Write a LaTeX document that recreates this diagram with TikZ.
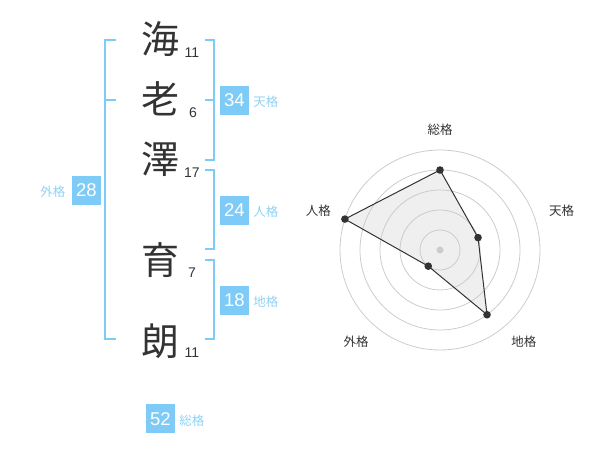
\documentclass[tikz,border=0pt]{standalone}
\usepackage{fontspec}
\setmainfont{Liberation Sans}
\newfontfamily\jpfont{Noto Sans CJK JP}
\usetikzlibrary{positioning}
\definecolor{kakublue}{HTML}{7FCBF7}
\definecolor{kakutext}{HTML}{8ED2F5}
\definecolor{inkgray}{HTML}{333333}
\definecolor{ringgray}{HTML}{CCCCCC}
\definecolor{areagray}{HTML}{EFEFEF}

\begin{document}
\begin{tikzpicture}[x=1pt,y=1pt,
  kanji/.style={font=\jpfont\fontsize{38}{38}\selectfont, text=inkgray, inner sep=0pt, text height=31pt, text depth=3pt},
  strokes/.style={font=\fontsize{14}{14}\selectfont, text=inkgray, inner sep=0pt},
  kakubox/.style={fill=kakublue, text=white, minimum size=29pt, inner sep=0pt, font=\fontsize{18.5}{18.5}\selectfont},
  kakuname/.style={font=\jpfont\fontsize{12.5}{12.5}\selectfont, text=kakutext, inner sep=0pt},
  bracket/.style={draw=kakublue, line width=2pt},
  axisname/.style={font=\jpfont\fontsize{12.5}{12.5}\selectfont, text=inkgray, inner sep=0pt},
]
\useasboundingbox (0,0) rectangle (600,470);

% name and stroke counts
\node[kanji] (k1) at (160,430) {海};
\node[kanji] (k2) at (160,370) {老};
\node[kanji] (k3) at (160,310) {澤};
\node[kanji] (k4) at (160,209) {育};
\node[kanji] (k5) at (160,128.5) {朗};
\node[strokes] (s1) at (192,417) {11};
\node[strokes] (s2) at (193,357) {6};
\node[strokes] (s3) at (192,297) {17};
\node[strokes] (s4) at (192,197) {7};
\node[strokes] (s5) at (192,117) {11};

% brackets
\draw[bracket] (116,430) -| (105,131) -- (116,131);
\draw[bracket] (105,370) -- (116,370);
\draw[bracket] (205,430) -| (214,310) -- (205,310);
\draw[bracket] (205,370) -- (214,370);
\draw[bracket] (205,300) -| (214,221) -- (205,221);
\draw[bracket] (205,210) -| (214,131) -- (205,131);

% scores
\node[kakubox] (ten) at (234.5,369.5) {34};
\node[kakuname, right=4pt of ten.base east, anchor=base west] (tenname) {天格};
\node[kakubox] (jin) at (234.5,259.5) {24};
\node[kakuname, right=4pt of jin.base east, anchor=base west] (jinname) {人格};
\node[kakubox] (chi) at (234.5,169.5) {18};
\node[kakuname, right=4pt of chi.base east, anchor=base west] (chiname) {地格};
\node[kakubox] (gai) at (86.3,279.5) {28};
\node[kakuname, left=6pt of gai.base west, anchor=base east] (gainame) {外格};
\node[kakubox] (sou) at (160.5,51) {52};
\node[kakuname, right=4pt of sou.base east, anchor=base west] (souname) {総格};

% radar chart
\coordinate (c) at (440,220);
\foreach \name/\ang/\r in {sou/90/80, ten/18/40, chi/-54/80, gai/-126/20, jin/162/100}
  \coordinate (p-\name) at ([shift={(\ang:\r)}]c);
\fill[areagray] (p-sou) -- (p-ten) -- (p-chi) -- (p-gai) -- (p-jin) -- cycle;
\foreach \r in {20,40,...,100}
  \draw[ringgray, line width=0.8pt] (c) circle (\r);
\fill[ringgray] (c) circle (3.5);
\draw[inkgray, line width=1pt, line join=round] (p-sou) -- (p-ten) -- (p-chi) -- (p-gai) -- (p-jin) -- cycle;
\foreach \name in {sou,ten,chi,gai,jin}
  \fill[inkgray] (p-\name) circle (3.8);

\node[axisname] (a-sou) at ([shift={(90:120)}]c) {総格};
\node[axisname] (a-ten) at ([shift={(18:128)}]c) {天格};
\node[axisname] (a-chi) at ([shift={(-47.5:124)}]c) {地格};
\node[axisname] (a-gai) at ([shift={(-132.5:124)}]c) {外格};
\node[axisname] (a-jin) at ([shift={(162:128)}]c) {人格};
\end{tikzpicture}
\end{document}
